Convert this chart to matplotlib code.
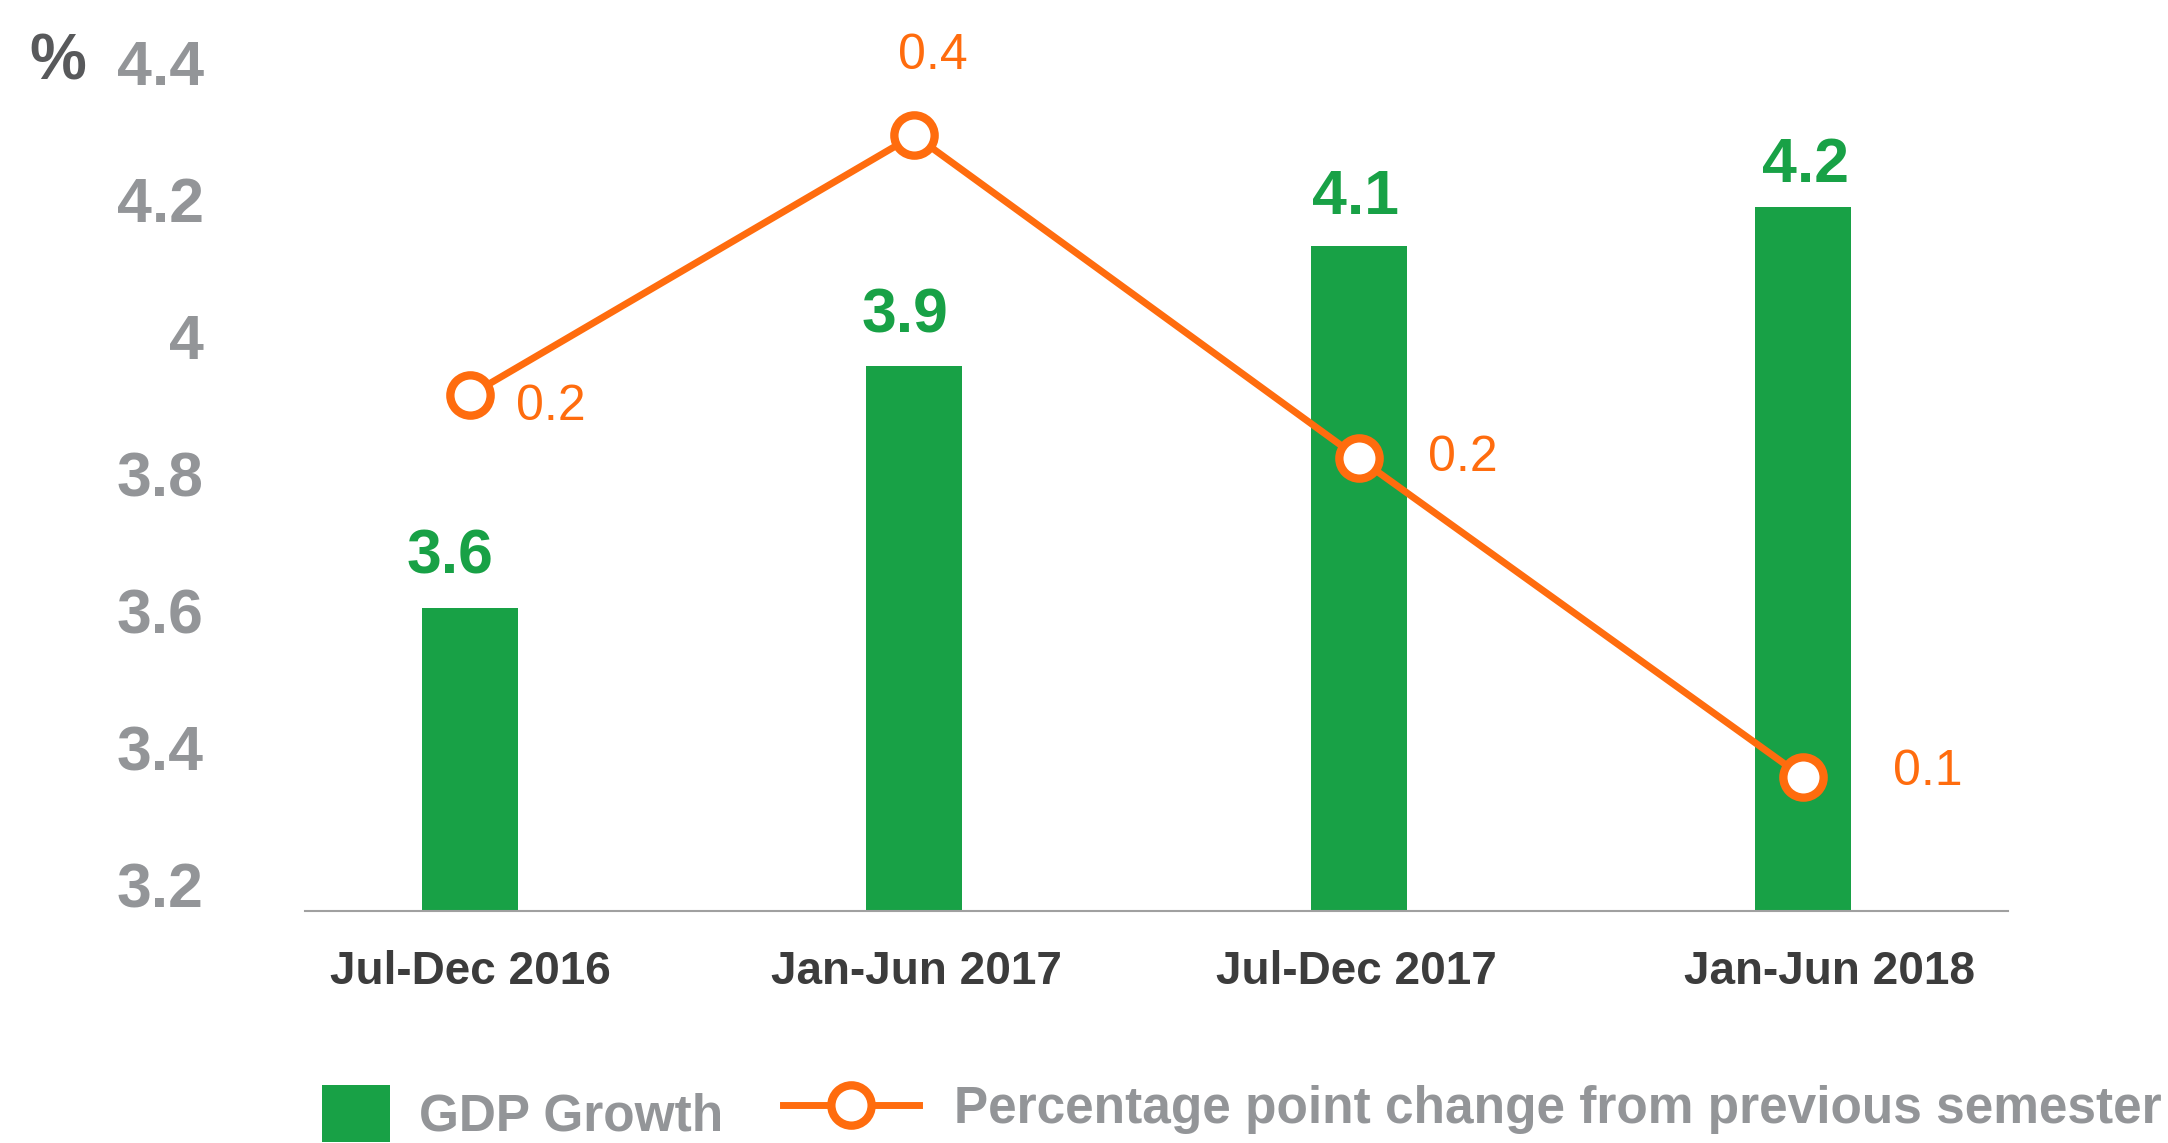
import matplotlib
matplotlib.use('Agg')
import matplotlib.pyplot as plt
import matplotlib.transforms as mtransforms
import numpy as np

plt.rcParams['font.family'] = ['Liberation Sans', 'DejaVu Sans']

# data
periods = ['Jul-Dec 2016', 'Jan-Jun 2017', 'Jul-Dec 2017', 'Jan-Jun 2018']
gdp_growth = [3.604, 3.957, 4.131, 4.188]
gdp_labels = ['3.6', '3.9', '4.1', '4.2']
# line is drawn on the same (left) scale in the original, labels carry the real values
pp_change_pos = [3.914, 4.293, 3.822, 3.357]
pp_change_labels = ['0.2', '0.4', '0.2', '0.1']
yticks = [3.2, 3.4, 3.6, 3.8, 4.0, 4.2, 4.4]
ytick_labels = ['3.2', '3.4', '3.6', '3.8', '4', '4.2', '4.4']

green = '#18a146'
orange = '#ff6c0e'
grey = '#939598'
dark = '#3c3c3c'

fig = plt.figure(figsize=(21.68, 11.43), dpi=100)
ax = fig.add_axes([0.1407, 0.2030, 0.7855, 0.7730])

x = np.arange(len(periods))
bars = ax.bar(x, gdp_growth, width=0.216, color=green, zorder=2, label='GDP Growth')
line, = ax.plot(x, pp_change_pos, '-o', color=orange, lw=5, ms=29, mfc='white',
                mec=orange, mew=6, zorder=3,
                label='Percentage point change from previous semester')

ax.set_xlim(-0.371, 3.461)
ax.set_ylim(3.162, 4.45)

ax.set_yticks(yticks)
ax.set_yticklabels(ytick_labels, fontsize=45, fontweight='bold', color=grey)
ax.set_xticks(x)
ax.set_xticklabels(periods, fontsize=33, fontweight='bold', color=dark)
ax.tick_params(axis='y', length=0, pad=73)
ax.tick_params(axis='x', length=0, pad=28)

# last category label sits a bit right of its bar in the original
lab_dx = [0, 2, -2, 26]
for t, dx in zip(ax.get_xticklabels(), lab_dx):
    t.set_transform(t.get_transform() + mtransforms.Affine2D().translate(dx, 0))

for s in ['left', 'top', 'right']:
    ax.spines[s].set_visible(False)
ax.spines['bottom'].set_color('#a0a0a0')
ax.spines['bottom'].set_linewidth(1.5)

# bar value labels
bar_off = [(-20, 34), (-9, 33), (-3, 32), (2, 25)]
for i, (v, lab) in enumerate(zip(gdp_growth, gdp_labels)):
    dx, dy = bar_off[i]
    ax.annotate(lab, xy=(i, v), xytext=(dx, dy), textcoords='offset pixels',
                ha='center', va='baseline', fontsize=45, fontweight='bold', color=green)

# line value labels
line_off = [(46, -12, 'left'), (19, 79, 'center'), (69, 0, 'left'), (90, 5, 'left')]
for i, (v, lab) in enumerate(zip(pp_change_pos, pp_change_labels)):
    dx, dy, ha = line_off[i]
    ax.annotate(lab, xy=(i, v), xytext=(dx, dy), textcoords='offset pixels',
                ha=ha, va='center', fontsize=36, color=orange)

fig.text(58 / 2168, 1 - 62 / 1143, '%', ha='center', va='center',
         fontsize=46, fontweight='bold', color='#58595b')

leg1 = fig.legend(handles=[bars], loc='center left', bbox_to_anchor=(0.1485, 0.0260),
                  frameon=False, borderpad=0, borderaxespad=0, handlelength=1.32,
                  handleheight=1.34, handletextpad=0.56,
                  prop={'size': 37, 'weight': 'bold'}, labelcolor=grey)
leg2 = fig.legend(handles=[line], loc='center left', bbox_to_anchor=(0.3612, 0.0290),
                  frameon=False, borderpad=0, borderaxespad=0, handlelength=2.64,
                  handletextpad=0.68, numpoints=1,
                  prop={'size': 37, 'weight': 'bold'}, labelcolor=grey)

fig.savefig('out.png', dpi=100)
